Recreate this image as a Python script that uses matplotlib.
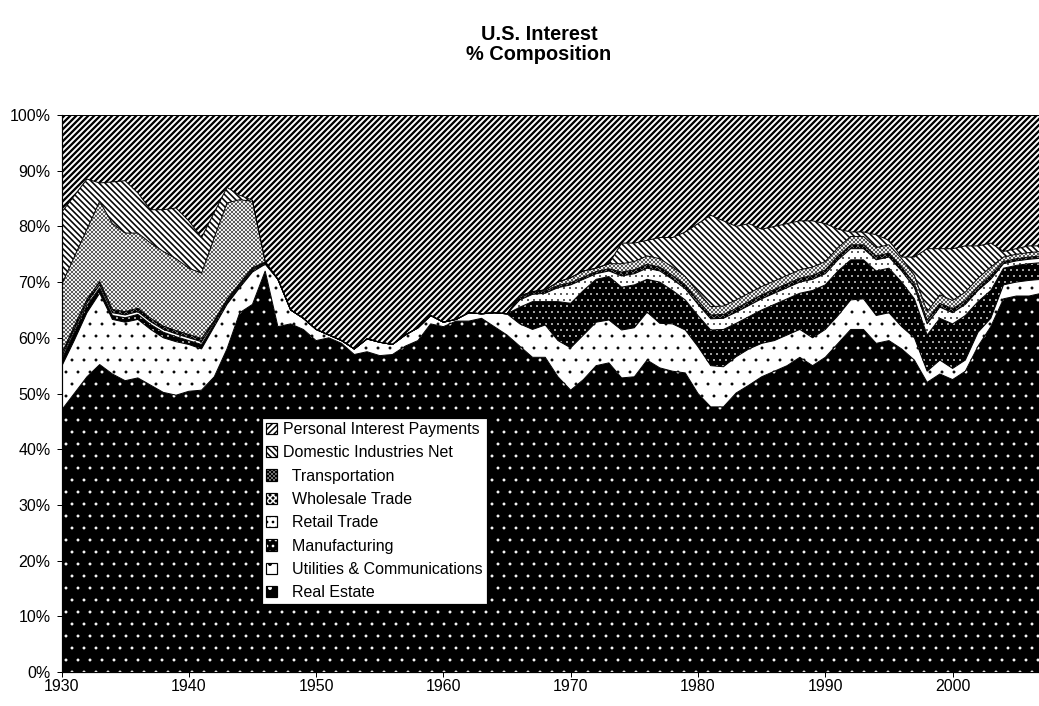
import numpy as np
import matplotlib
matplotlib.use('Agg')
import matplotlib.pyplot as plt
from matplotlib.patches import Patch
from matplotlib.legend_handler import HandlerTuple

plt.rcParams['font.family'] = ['Liberation Sans', 'DejaVu Sans']
plt.rcParams['hatch.linewidth'] = 1.5

years = list(range(1930, 2008))

# cumulative share (%) at the top of each layer
real_estate_top = [47, 50, 53, 55.2, 53.5, 52.3, 52.8, 51.5, 50.2, 49.7,
                   50.4, 50.6, 53, 58, 64.5, 66, 72, 62, 62.5, 61.5,
                   59.5, 60, 59, 57, 57.5, 56.8, 57, 58.5, 59.5, 62.5,
                   62, 63, 63, 63.5, 62, 60.5, 58.5, 56.5, 56.5, 53,
                   50.6, 52.5, 55, 55.5, 52.8, 53, 56, 54.6, 54, 53.7,
                   50, 47.6, 47.6, 50.1, 51.5, 53, 54, 55, 56.5, 55,
                   56.5, 59, 61.5, 61.5, 59, 59.5, 58, 56, 52, 53.5,
                   52.5, 54, 58.5, 62, 67, 67.5, 67.5, 68]
utilities_top = [54.8, 59.5, 64.5, 68, 63.3, 62.8, 63.3, 61.5, 60, 59.3,
                 58.8, 58, 62, 66, 69, 71.8, 73.2, 70.5, 65, 63.5,
                 61.5, 60.5, 59.5, 58, 59.8, 59.2, 58.8, 60.5, 61.8, 64,
                 62.8, 63.3, 64.5, 64.3, 64.5, 64.3, 62.5, 61.5, 62.3, 59.5,
                 58.2, 60.5, 62.8, 63.2, 61.4, 61.8, 64.6, 62.6, 62.5, 61.4,
                 58.4, 55, 54.8, 56.6, 58, 59, 59.5, 60.5, 61.5, 60,
                 61.5, 64, 66.8, 67, 64, 64.5, 62, 60, 54, 56,
                 54.5, 56, 61, 63.5, 69.5, 70, 70.3, 70.5]
manufacturing_top = [56, 61, 65.8, 69, 64, 63.6, 64.2, 62.4, 61, 60.2,
                     59.5, 58.8, 62.5, 66.4, 69.3, 72.1, 73.4, 70.5, 65, 63.5,
                     61.5, 60.5, 59.5, 58, 59.8, 59.2, 58.8, 60.5, 61.8, 64,
                     62.8, 63.3, 64.5, 64.3, 64.5, 64.3, 65.5, 66.5, 66.5, 66.5,
                     66.2, 68.5, 70.5, 71, 69.1, 69.5, 70.5, 70, 68.5, 66.8,
                     64, 61.4, 61.5, 62.6, 63.8, 65, 66, 67, 68, 68.5,
                     69.5, 72, 74, 74, 72, 72.5, 70, 67, 60.5, 63.5,
                     62.5, 64, 66.5, 68.5, 72.5, 73, 73.3, 73.5]
retail_top = [56.5, 61.5, 66.3, 69.5, 64.5, 64.1, 64.7, 62.9, 61.5, 60.7,
              60, 59.3, 62.8, 66.6, 69.5, 72.3, 73.5, 70.5, 65, 63.5,
              61.5, 60.5, 59.5, 58, 59.8, 59.2, 58.8, 60.5, 61.8, 64,
              62.8, 63.3, 64.5, 64.3, 64.5, 64.3, 66.8, 67.8, 68, 69,
              69.5, 70.5, 71.5, 72, 71.1, 71.5, 72.5, 72, 70.5, 68.8,
              66, 63.4, 63.5, 64.6, 65.8, 67, 68, 69, 70, 70.5,
              71.5, 74, 76, 76, 74, 74.5, 72, 69, 62.5, 65.5,
              64.5, 66, 68.5, 70.5, 73.3, 73.8, 74.1, 74.3]
wholesale_top = [57.1, 62.1, 66.9, 70.1, 65.1, 64.7, 65.3, 63.5, 62.1, 61.3,
                 60.6, 59.9, 63.1, 66.9, 69.8, 72.6, 73.6, 70.5, 65, 63.5,
                 61.5, 60.5, 59.5, 58, 59.8, 59.2, 58.8, 60.5, 61.8, 64,
                 62.8, 63.3, 64.5, 64.3, 64.5, 64.3, 67.2, 68.2, 68.4, 69.4,
                 69.9, 70.9, 71.9, 72.4, 71.8, 72.2, 73.2, 72.7, 71.2, 69.5,
                 66.7, 64.1, 64.2, 65.3, 66.5, 67.7, 68.7, 69.7, 70.7, 71.2,
                 72.2, 74.7, 76.7, 76.7, 74.7, 75.2, 72.7, 69.7, 63.2, 66.2,
                 65.2, 66.7, 69.2, 71.2, 73.7, 74.2, 74.5, 74.7]
transportation_top = [69.5, 74.5, 79.5, 84.5, 80.5, 78.8, 78.8, 77, 75.5, 74.2,
                      72.5, 71.6, 78, 84.2, 84.8, 84.5, 73.7, 70.5, 65, 63.5,
                      61.5, 60.5, 59.5, 58, 59.8, 59.2, 58.8, 60.5, 61.8, 64,
                      62.8, 63.3, 64.5, 64.3, 64.5, 64.3, 67.5, 68.3, 68.6, 70,
                      70.8, 72, 72.5, 73.3, 73.3, 73.7, 74.7, 74.2, 72.7, 71,
                      68.2, 65.6, 65.7, 66.8, 68, 69.2, 70.2, 71.2, 72.2, 72.7,
                      73.7, 76.2, 78.2, 78.2, 76.2, 76.7, 74.2, 71.2, 64.7, 67.7,
                      66.7, 68.2, 70.7, 72.7, 74.5, 75, 75.3, 75.5]
domestic_top = [82.5, 85.5, 88.5, 87.8, 88, 88.2, 86, 83, 83, 83.3,
                81, 78, 82.5, 87, 85.6, 84.7, 73.7, 70.5, 65, 63.5,
                61.5, 60.5, 59.5, 58, 59.8, 59.2, 58.8, 60.5, 61.8, 64,
                62.8, 63.3, 64.5, 64.3, 64.5, 64.3, 67.5, 68.3, 68.6, 70,
                70.8, 72, 72.5, 73.3, 77, 77, 77.5, 78, 78, 79,
                80.5, 82, 81, 80, 80.5, 79.5, 80, 80.5, 81, 81,
                80.5, 79.5, 79, 79, 78.5, 77.5, 74.5, 74.5, 76, 76,
                76, 76.5, 76.5, 77, 75.5, 76, 76.5, 76.5]
personal_top = [100] * len(years)

labels = ['Real Estate', 'Utilities & Communications', 'Manufacturing',
          'Retail Trade', 'Wholesale Trade', 'Transportation',
          'Domestic Industries Net', 'Personal Interest Payments']
tops = [real_estate_top, utilities_top, manufacturing_top, retail_top,
        wholesale_top, transportation_top, domestic_top, personal_top]
# face colour, hatch, hatch colour, hatch line width
styles = [('black', '.', 'white', 0.4),
          ('white', '.', 'black', 0.4),
          ('black', '..', 'white', 0.5),
          ('white', '..', 'black', 0.5),
          ('black', 'xxxx', 'white', 0.3),
          ('white', 'xxxxxx', 'black', 0.5),
          ('white', '\\\\\\\\', 'black', 1.6),
          ('white', '////', 'black', 2.3)]


def hatched(artist, lw):
    # hatch width per artist when the matplotlib version allows it
    if hasattr(artist, 'set_hatch_linewidth'):
        artist.set_hatch_linewidth(lw)
    return artist


fig = plt.figure(figsize=(1039 / 72, 706 / 72), dpi=72)
ax = fig.add_axes([61.5 / 1039, 34 / 706, 977.5 / 1039, 557 / 706])

bottom = np.zeros(len(years))
for top, (fc, h, hc, hlw) in zip(tops, styles):
    top = np.array(top, dtype=float)
    with plt.rc_context({'hatch.linewidth': hlw}):
        coll = ax.fill_between(years, bottom, top, facecolor=fc, edgecolor=hc,
                               hatch=h, linewidth=0)
    hatched(coll, hlw)
    bottom = top
for top in tops:
    ax.plot(years, top, color='black', lw=1.0, solid_joinstyle='miter')

ax.set_xlim(1930, 1930 + 977.5 / 12.73)
ax.set_ylim(0, 100)
ax.set_xticks(range(1930, 2001, 10))
ax.set_yticks(range(0, 101, 10))
ax.set_yticklabels(['%d%%' % v for v in range(0, 101, 10)])
ax.tick_params(axis='both', labelsize=16, direction='out', length=5,
               width=1, color='black')
ax.tick_params(axis='y', pad=6)
ax.tick_params(axis='x', pad=2)
for side in ['top', 'right']:
    ax.spines[side].set_visible(False)
for side in ['left', 'bottom']:
    ax.spines[side].set_linewidth(1.2)

# legend, top layer first
handles = []
for fc, h, hc, hlw in styles[::-1]:
    with plt.rc_context({'hatch.linewidth': hlw}):
        fill = hatched(Patch(facecolor=fc, edgecolor=hc, hatch=h, linewidth=0), hlw)
    frame = Patch(facecolor='none', edgecolor='black', linewidth=1.2)
    handles.append((fill, frame))
leg_labels = []
for i, lab in enumerate(labels[::-1]):
    leg_labels.append(lab if i < 2 else '  ' + lab)
leg = ax.legend(handles, leg_labels, handler_map={tuple: HandlerTuple(ndivide=1)},
                loc='upper left', bbox_to_anchor=(0.205, 0.456), borderaxespad=0,
                fontsize=16, handlelength=0.7, handleheight=0.7,
                handletextpad=0.4, labelspacing=0.52, borderpad=0.25,
                fancybox=False, framealpha=1, edgecolor='black')
leg.get_frame().set_linewidth(1.2)

fig.text(539 / 1039, 1 - 25 / 706, 'U.S. Interest\n% Composition',
         ha='center', va='top', fontsize=20, fontweight='bold', linespacing=1.05)

fig.savefig('out.png', dpi=72)
